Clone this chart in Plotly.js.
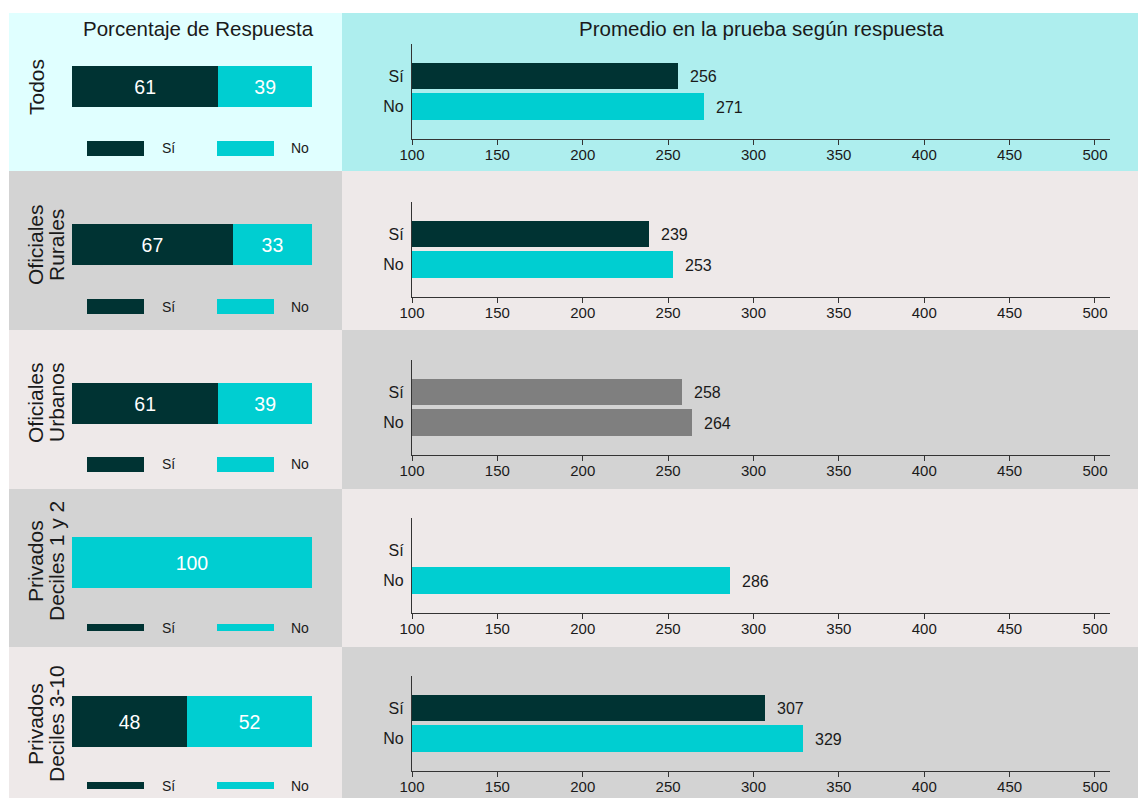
<!DOCTYPE html>
<html><head><meta charset="utf-8">
<script src="https://cdn.plot.ly/plotly-3.0.1.min.js"></script>
<style>html,body{margin:0;padding:0;background:#fff}</style>
</head><body><div id="chart" style="width:1138px;height:798px"></div>
<script>
// ---- data ----
const groups = ["Todos", "Oficiales<br>Rurales", "Oficiales<br>Urbanos", "Privados<br>Deciles 1 y 2", "Privados<br>Deciles 3-10"];
const answers = ["Sí", "No"];
const pctSi = [61, 67, 61, 0, 48];
const pctNo = [39, 33, 39, 100, 52];
const meanSi = [256, 239, 258, null, 307];
const meanNo = [271, 253, 264, 286, 329];
const xTicks = [100, 150, 200, 250, 300, 350, 400, 450, 500];
const titleLeft = "Porcentaje de Respuesta";
const titleRight = "Promedio en la prueba según respuesta";

// ---- layout helpers ----
const W = 1138, H = 798;
const px = x => x / W, py = y => 1 - y / H;
const FONT = "Liberation Sans, Arial, sans-serif";
const DARK = "#003333", CYAN = "#00CED1", GRAY = "#7F7F7F", TXT = "#1a1a1a";
const rowTops = [13, 171, 329, 487, 645];
const bgBounds = [13, 171, 330, 489, 647, 798];
const bgLeft = ["#E0FFFF", "#D3D3D3", "#EEE9E9", "#D3D3D3", "#EEE9E9"];
const bgRight = ["#AEEEEE", "#EEE9E9", "#D3D3D3", "#EEE9E9", "#D3D3D3"];
const leftBar = [[53, 94], [53, 94], [54, 95], [50, 101], [51, 102]];
const legendBar = [[128, 143], [128, 143], [128, 143], [137, 144], [137, 144]];
const labelY = [74, 74, 74, 74, 79];
const rightColors = [[DARK, CYAN], [DARK, CYAN], [GRAY, GRAY], [DARK, CYAN], [DARK, CYAN]];

const traces = [];
const layout = {
  width: W, height: H, autosize: false,
  margin: {l: 0, r: 0, t: 0, b: 0, pad: 0},
  paper_bgcolor: "#ffffff", plot_bgcolor: "rgba(0,0,0,0)",
  barmode: "stack", showlegend: false,
  font: {family: FONT, color: TXT},
  shapes: [], annotations: []
};

for (let i = 0; i < groups.length; i++) {
  const top = rowTops[i];
  // backgrounds
  layout.shapes.push({type: "rect", xref: "paper", yref: "paper", layer: "below",
    x0: px(9), x1: px(342), y0: py(bgBounds[i + 1]), y1: py(bgBounds[i]),
    fillcolor: bgLeft[i], line: {width: 0}});
  layout.shapes.push({type: "rect", xref: "paper", yref: "paper", layer: "below",
    x0: px(342), x1: px(1138), y0: py(bgBounds[i + 1]), y1: py(bgBounds[i]),
    fillcolor: bgRight[i], line: {width: 0}});

  const lx = 2 * i + 1, rx = 2 * i + 2;
  const lxn = lx === 1 ? "x" : "x" + lx, lyn = lx === 1 ? "y" : "y" + lx;
  const rxn = "x" + rx, ryn = "y" + rx;

  // left stacked percentage bar
  [[pctSi[i], DARK], [pctNo[i], CYAN]].forEach(([v, c]) => {
    traces.push({type: "bar", orientation: "h", y: [""], x: [v], width: [1],
      marker: {color: c, line: {width: 0}},
      text: [v > 0 ? String(v) : ""], textposition: "inside", insidetextanchor: "middle",
      textfont: {color: "#ffffff", size: 19.5, family: FONT}, constraintext: "none",
      xaxis: lxn, yaxis: lyn, hoverinfo: "skip"});
  });
  layout["xaxis" + (lx === 1 ? "" : lx)] = {domain: [px(72), px(312)], range: [0, 100],
    visible: false, fixedrange: true, anchor: lyn};
  layout["yaxis" + (lx === 1 ? "" : lx)] = {domain: [py(top + leftBar[i][1]), py(top + leftBar[i][0])],
    range: [-0.5, 0.5], visible: false, fixedrange: true, anchor: lxn};

  // right mean bars
  traces.push({type: "bar", orientation: "h", y: answers, x: [meanSi[i], meanNo[i]],
    width: [0.87, 0.87], marker: {color: rightColors[i], line: {width: 0}},
    xaxis: rxn, yaxis: ryn, hoverinfo: "skip"});
  layout["xaxis" + rx] = {domain: [px(412), px(1110)], range: [100, 508.8], anchor: ryn,
    tickmode: "array", tickvals: xTicks, ticktext: xTicks.map(String),
    ticks: "outside", ticklen: 5, tickcolor: "#333", tickwidth: 1,
    showline: true, linecolor: "#333", linewidth: 1.2, showgrid: false, zeroline: false,
    ticklabelstandoff: -3,
    tickfont: {size: 15, color: TXT, family: FONT}, fixedrange: true};
  layout["yaxis" + rx] = {domain: [py(top + 126), py(top + 31)], anchor: rxn,
    type: "category", categoryorder: "array", categoryarray: ["No", "Sí"],
    range: [-1.07, 2.05], showline: true, linecolor: "#333", linewidth: 1.2,
    ticks: "", showgrid: false, zeroline: false, ticklabelstandoff: 4,
    tickfont: {size: 16, color: TXT, family: FONT}, fixedrange: true};

  [meanSi[i], meanNo[i]].forEach((v, j) => {
    if (v === null) return;
    layout.annotations.push({xref: rxn, yref: ryn, x: v, y: answers[j], text: String(v),
      xanchor: "left", yanchor: "middle", xshift: 10, yshift: -1, showarrow: false,
      font: {size: 16, color: TXT, family: FONT}});
  });

  // legend swatches
  const ly0 = top + legendBar[i][0], ly1 = top + legendBar[i][1];
  [[87, 144, DARK, 168, answers[0]], [217, 274, CYAN, 300, answers[1]]].forEach(([a, b, c, tx, t]) => {
    layout.shapes.push({type: "rect", xref: "paper", yref: "paper", x0: px(a), x1: px(b),
      y0: py(ly1), y1: py(ly0), fillcolor: c, line: {width: 0}});
    layout.annotations.push({xref: "paper", yref: "paper", x: px(tx), y: py((ly0 + ly1) / 2),
      text: t, showarrow: false, xanchor: "center", yanchor: "middle",
      font: {size: 14, color: TXT, family: FONT}});
  });

  // row labels (rotated)
  const lines = groups[i].split("<br>");
  const xs = lines.length === 1 ? [36] : [35, 56];
  lines.forEach((t, k) => {
    layout.annotations.push({xref: "paper", yref: "paper", x: px(xs[k]), y: py(top + labelY[i]),
      text: t, textangle: -90, showarrow: false, xanchor: "center", yanchor: "middle",
      font: {size: 21, color: TXT, family: FONT}});
  });
}

// panel titles
layout.annotations.push({xref: "paper", yref: "paper", x: px(199), y: py(28), text: titleLeft,
  showarrow: false, xanchor: "center", yanchor: "middle", font: {size: 20.5, color: TXT, family: FONT}});
layout.annotations.push({xref: "paper", yref: "paper", x: px(761), y: py(28), text: titleRight,
  showarrow: false, xanchor: "center", yanchor: "middle", font: {size: 20.5, color: TXT, family: FONT}});

Plotly.newPlot("chart", traces, layout, {staticPlot: true, displayModeBar: false});
</script></body></html>
